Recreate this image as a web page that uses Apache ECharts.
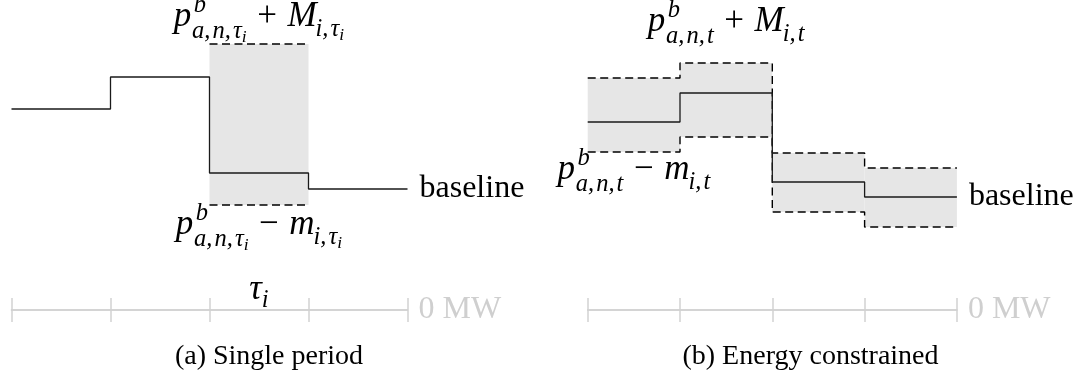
<!DOCTYPE html>
<html><head><meta charset="utf-8">
<script src="https://cdn.jsdelivr.net/npm/echarts@6/dist/echarts.min.js"></script>
<style>html,body{margin:0;padding:0;background:#fff}#c{width:1088px;height:378px}</style>
</head><body><div id="c"></div>
<script>
// ---- data (MW) ----
const ticks = [0, 1, 2, 3, 4];
const baselineA = [20.1, 23.3, 13.7, 12.1];
const bandPeriodsA = [2];
const upperA = [26.6];
const lowerA = [10.5];
const baselineB = [18.8, 21.7, 12.8, 11.3];
const upperB = [23.2, 24.7, 15.7, 14.2];
const lowerB = [15.8, 17.3, 9.8, 8.3];
const captions = ['(a) Single period', '(b) Energy constrained'];

const FAM = '"Liberation Serif"';
const cv = document.createElement('canvas').getContext('2d');
function tw(text, size, it) { cv.font = (it ? 'italic ' : '') + size + 'px ' + FAM; return cv.measureText(text).width; }

function stepData(vals, start) {
  const pts = vals.map((v, i) => [start + i, v]);
  pts.push([start + vals.length, vals[vals.length - 1]]);
  return pts;
}

function mathEls(tokens, F, cx, by) {
  const items = []; let x = 0;
  const sz = l => l === 0 ? F : (l === 1 ? F * 0.7 : F * 0.5);
  function run(seq, x0, base) {
    let xx = x0;
    seq.forEach(t => {
      if (t.gap) { xx += t.gap * F; return; }
      const s = sz(t.l || 0);
      items.push({ text: t.t, x: xx, y: base + (t.dy || 0) * F, s: s, it: t.it });
      xx += tw(t.t, s, t.it) + (t.kern || 0) * F;
    });
    return xx;
  }
  tokens.forEach(t => {
    if (t.script) {
      const subB = t.sup ? 0.32 : (t.subShift || 0.24);
      const w1 = t.sup ? run(t.sup, x + (t.supKern || 0) * F, -0.44 * F) : x;
      const w2 = t.sub ? run(t.sub, x, subB * F) : x;
      x = Math.max(w1, w2);
    } else x = run([t], x, 0);
  });
  const off = cx - x / 2;
  return items.map(it => ({
    type: 'text',
    style: {
      text: it.text, x: off + it.x, y: by + it.y - 0.34 * it.s,
      font: (it.it ? 'italic ' : '') + Math.round(it.s * 10) / 10 + 'px ' + FAM,
      fill: '#000', align: 'left', verticalAlign: 'middle'
    }
  }));
}

const I = (t, l, extra) => Object.assign({ t: t, it: true, l: l || 0 }, extra || {});
const R = t => ({ t: t, it: false, l: 0 });
function pLabel(subMain, sign, big, subBig) {
  return [I('p', 0, { kern: 0.02 }), { script: true, supKern: 0.05, sup: [I('b', 1)], sub: subMain },
    { gap: 0.3 }, R(sign), { gap: 0.3 }, I(big, 0, { kern: -0.03 }), { script: true, sub: subBig }];
}
const CK = 0.06;
const subTau = [I('a,', 1, { kern: CK }), I('n,', 1, { kern: CK }), I('τ', 1), I('i', 2, { dy: 0.1 })];
const subTauM = [I('i,', 1, { kern: CK }), I('τ', 1), I('i', 2, { dy: 0.1 })];
const subT = [I('a,', 1, { kern: CK }), I('n,', 1, { kern: CK }), I('t', 1)];
const subTM = [I('i,', 1, { kern: CK }), I('t', 1)];

const F = 35;
const labelSpecs = [
  { tokens: pLabel(subTau, '+', 'M', subTauM), dy: -15 },
  { tokens: pLabel(subTau, '−', 'm', subTauM), dy: 32 },
  { tokens: [I('τ'), { script: true, sub: [I('i', 1)], subShift: 0.2 }], dy: -8 },
  { tokens: pLabel(subT, '+', 'M', subTM), dy: -29 },
  { tokens: pLabel(subT, '−', 'm', subTM), dy: 30 }
];
const labelAnchorsA = [[2.5, upperA[0], 0], [2.5, lowerA[0], 1], [2.5, 0, 2]];
const labelAnchorsB = [[1.5, upperB[1], 3], [0.5, lowerB[0], 4]];

function labelRender(params, api) {
  const p = api.coord([api.value(0), api.value(1)]);
  const spec = labelSpecs[api.value(2)];
  return { type: 'group', children: mathEls(spec.tokens, F, p[0], p[1] + spec.dy) };
}
function bandRender(params, api) {
  const p0 = api.coord([api.value(0), api.value(3)]);
  const p1 = api.coord([api.value(1), api.value(2)]);
  return { type: 'rect', shape: { x: p0[0], y: p0[1], width: p1[0] - p0[0], height: p1[1] - p0[1] }, style: { fill: '#e6e6e6' } };
}

const axisGray = '#d2d2d2';
function xAx(g, inside) {
  return {
    type: 'value', gridIndex: g, min: ticks[0], max: ticks[ticks.length - 1], interval: 1, position: 'bottom',
    axisLine: { show: true, onZero: false, lineStyle: { color: axisGray, width: 1.5 } },
    axisTick: { show: true, inside: inside, length: 12, lineStyle: { color: axisGray, width: 1.5 } },
    axisLabel: { show: false }, splitLine: { show: false }
  };
}
function yAx(g) {
  return {
    type: 'value', gridIndex: g, min: 0, max: 30, interval: 30, position: 'right',
    axisLine: { show: false }, axisTick: { show: false }, splitLine: { show: false },
    axisLabel: { formatter: v => v === 0 ? '0 MW' : '', color: '#cfcfcf', fontFamily: 'Liberation Serif', fontSize: 32, margin: 11 }
  };
}
const solidStyle = { color: '#1a1a1a', width: 1.3 };
const dashStyle = { color: '#000', width: 1.4, type: [8, 4.5] };
const endLbl = { show: true, formatter: 'baseline', distance: 12, color: '#000', fontFamily: 'Liberation Serif', fontSize: 32 };
function line(xi, yi, data, style, step, extra) {
  return Object.assign({ type: 'line', xAxisIndex: xi, yAxisIndex: yi, data: data, step: step ? 'end' : false,
    symbol: 'none', silent: true, lineStyle: style, z: 3 }, extra || {});
}

const option = {
  animation: false,
  grid: [
    { left: 11.5, top: 10, width: 396, height: 300, outerBoundsMode: 'none' },
    { left: 587.7, top: 10, width: 369.2, height: 300, outerBoundsMode: 'none' }
  ],
  xAxis: [xAx(0, false), xAx(0, true), xAx(1, false), xAx(1, true)],
  yAxis: [yAx(0), yAx(1)],
  graphic: [
    { type: 'text', x: 269, y: 357, style: { text: captions[0], font: '28px ' + FAM, fill: '#000', align: 'center', verticalAlign: 'middle' } },
    { type: 'text', x: 810.5, y: 357, style: { text: captions[1], font: '28px ' + FAM, fill: '#000', align: 'center', verticalAlign: 'middle' } }
  ],
  series: [
    { type: 'custom', xAxisIndex: 0, yAxisIndex: 0, renderItem: bandRender, silent: true, z: 1,
      encode: { x: [0, 1], y: [2, 3] },
      data: bandPeriodsA.map((p, i) => [p, p + 1, lowerA[i], upperA[i]]) },
    line(0, 0, stepData(upperA, bandPeriodsA[0]), dashStyle, false),
    line(0, 0, stepData(lowerA, bandPeriodsA[0]), dashStyle, false),
    line(0, 0, stepData(baselineA, 0), solidStyle, true, { endLabel: endLbl, z: 4 }),
    { type: 'custom', xAxisIndex: 0, yAxisIndex: 0, renderItem: labelRender, silent: true, z: 5,
      encode: { x: 0, y: 1 }, data: labelAnchorsA },

    { type: 'custom', xAxisIndex: 2, yAxisIndex: 1, renderItem: bandRender, silent: true, z: 1,
      encode: { x: [0, 1], y: [2, 3] },
      data: baselineB.map((v, i) => [i, i + 1, lowerB[i], upperB[i]]) },
    line(2, 1, stepData(upperB, 0), dashStyle, true),
    line(2, 1, stepData(lowerB, 0), dashStyle, true),
    line(2, 1, stepData(baselineB, 0), solidStyle, true, { endLabel: endLbl, z: 4 }),
    { type: 'custom', xAxisIndex: 2, yAxisIndex: 1, renderItem: labelRender, silent: true, z: 5,
      encode: { x: 0, y: 1 }, data: labelAnchorsB }
  ]
};
const chart = echarts.init(document.getElementById('c'), null, { renderer: 'canvas' });
chart.setOption(option);
</script></body></html>
